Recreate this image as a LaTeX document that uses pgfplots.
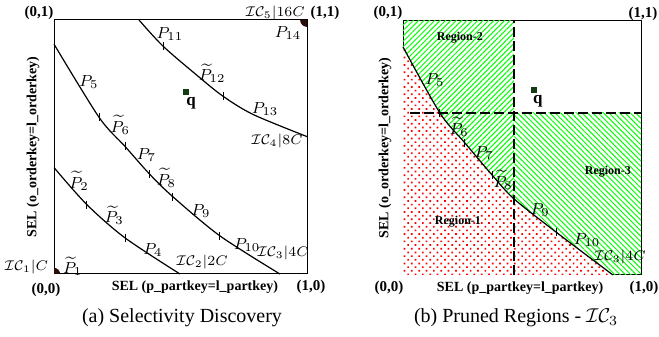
\documentclass[border=0pt]{standalone}
\usepackage{fontspec}
\setmainfont{Liberation Serif}
\usepackage{pgfplots}
\pgfplotsset{compat=1.18}
\usepackage{pgfplotstable}
\usetikzlibrary{patterns,patterns.meta}
\definecolor{qgreen}{RGB}{20,60,20}
\definecolor{corner}{RGB}{45,12,12}
\newcommand{\IC}{\mathcal{I}\mathcal{C}}
\newcommand{\plab}{\fontsize{8}{9}\selectfont}
\newcommand{\iclab}{\fontsize{7.5}{8.5}\selectfont}
\newcommand{\blab}{\fontsize{7}{8}\selectfont\bfseries}
\newcommand{\clab}{\fontsize{7.5}{8.5}\selectfont\bfseries}
\newcommand{\rlab}{\fontsize{6}{7}\selectfont\bfseries}
\newcommand{\caplab}{\fontsize{10}{12}\selectfont}

\pgfplotstableread{
x y
0.336 1.000
0.431 0.897
0.569 0.779
0.668 0.700
0.787 0.628
1.000 0.541
}\ICfourL
\pgfplotstableread{
x y
0.000 0.905
0.178 0.617
0.281 0.502
0.379 0.392
0.470 0.304
0.656 0.150
0.893 0.000
}\ICthreeL
\pgfplotstableread{
x y
0.000 0.419
0.130 0.273
0.281 0.142
0.498 0.000
}\ICtwoL
\pgfplotstableread{
x y
0.000 0.898
0.155 0.638
0.260 0.520
0.374 0.394
0.466 0.300
0.643 0.169
0.882 0.000
}\ICthreeR

\pgfplotsset{
  panel/.style={scale only axis, xmin=0, xmax=1, ymin=0, ymax=1, ticks=none,
    clip=false, axis line style={line width=0.5pt}},
  curve/.style={smooth, line width=0.6pt, black, no marks},
  ctick/.style={only marks, mark=|, mark size=2pt, mark options={line width=0.5pt}, black},
}
\tikzset{every node/.append style={inner sep=0.5pt}}

\begin{document}
\begin{tikzpicture}
\useasboundingbox (0,0) rectangle (329.5pt,168.5pt);

% ---------------- (a) ----------------
\begin{axis}[panel, at={(27pt,31.5pt)}, anchor=south west, width=126.5pt, height=127pt]
\addplot[curve] table {\ICfourL};
\addplot[curve] table {\ICthreeL};
\addplot[curve] table {\ICtwoL};
\addplot[ctick] coordinates {(0.431,0.897) (0.668,0.700)
  (0.178,0.617) (0.281,0.502) (0.379,0.392) (0.470,0.304) (0.656,0.150)
  (0.130,0.273) (0.281,0.142)};
\addplot[fill=corner, draw=none] coordinates {(0,0) (0.024,0) (0.0232,0.0062) (0.0208,0.012) (0.017,0.017) (0.012,0.0208) (0.0062,0.0232) (0,0.024)} --cycle;
\addplot[fill=corner, draw=none] coordinates {(1,1) (0.973,1) (0.9738,0.993) (0.9766,0.9865) (0.981,0.981) (0.9865,0.9766) (0.993,0.9738) (1,0.973)} --cycle;
\addplot[only marks, mark=square*, mark size=1.3pt, color=qgreen] coordinates {(0.522,0.717)};

\node at (axis cs:0.542,0.672) {\fontsize{8.5}{9}\selectfont\bfseries q};
\node at (axis cs:0.458,0.945) {\plab $P_{11}$};
\node at (axis cs:0.925,0.950) {\plab $P_{14}$};
\node at (axis cs:0.625,0.791) {\plab $\widetilde{P}_{12}$};
\node at (axis cs:0.834,0.650) {\plab $P_{13}$};
\node at (axis cs:0.881,0.524) {\iclab $\IC_4|8C$};
\node at (axis cs:0.138,0.756) {\plab $P_{5}$};
\node at (axis cs:0.262,0.587) {\plab $\widetilde{P}_{6}$};
\node at (axis cs:0.365,0.469) {\plab $P_{7}$};
\node at (axis cs:0.444,0.378) {\plab $\widetilde{P}_{8}$};
\node at (axis cs:0.581,0.248) {\plab $P_{9}$};
\node at (axis cs:0.763,0.114) {\plab $P_{10}$};
\node at (axis cs:0.905,0.083) {\iclab $\IC_3|4C$};
\node at (axis cs:0.099,0.366) {\plab $\widetilde{P}_{2}$};
\node at (axis cs:0.238,0.232) {\plab $\widetilde{P}_{3}$};
\node at (axis cs:0.391,0.094) {\plab $P_{4}$};
\node at (axis cs:0.585,0.047) {\iclab $\IC_2|2C$};
\node at (axis cs:0.074,0.030) {\plab $\widetilde{P}_{1}$};
\node[anchor=east] at (axis cs:-0.018,0.028) {\iclab $\IC_1|C$};
\node at (axis cs:-0.059,1.028) {\clab (0,1)};
\node at (axis cs:0.874,1.028) {\iclab $\IC_5|16C$};
\node at (axis cs:1.071,1.028) {\clab (1,1)};
\node at (axis cs:-0.032,-0.063) {\clab (0,0)};
\node at (axis cs:0.557,-0.051) {\blab SEL (p\_partkey=l\_partkey)};
\node at (axis cs:1.016,-0.051) {\clab (1,0)};
\node[rotate=90] at (axis cs:-0.083,0.5) {\blab SEL (o\_orderkey=l\_orderkey)};
\node at (axis cs:0.506,-0.173) {\caplab (a) Selectivity Discovery};
\end{axis}

% ---------------- (b) ----------------
\begin{axis}[panel, at={(201.5pt,31pt)}, anchor=south west, width=119pt, height=127pt]
\addplot[draw=none, pattern={Lines[angle=45,distance=1.9pt,line width=0.5pt]}, pattern color=green] coordinates {(0,1) (0.466,1)} \closedcycle;
\addplot[draw=none, pattern={Lines[angle=-45,distance=1.9pt,line width=0.5pt]}, pattern color=green] coordinates {(0.466,0.638) (1,0.638)} \closedcycle;
\addplot[smooth, draw=none, fill=white, postaction={pattern={Dots[angle=45,distance=2.6pt,radius=0.6pt]}, pattern color=red}] table {\ICthreeR} \closedcycle;
\addplot[line width=0.6pt, dash pattern=on 5pt off 2pt, black] coordinates {(0.466,0) (0.466,1)};
\addplot[line width=0.6pt, dash pattern=on 5pt off 2pt, black] coordinates {(0.03,0.638) (1,0.638)};
\addplot[curve] table {\ICthreeR};
\addplot[ctick] coordinates {(0.155,0.638) (0.260,0.520) (0.374,0.394) (0.643,0.169)};
\addplot[only marks, mark=square*, mark size=1.3pt, color=qgreen] coordinates {(0.550,0.728)};

\node at (axis cs:0.567,0.684) {\fontsize{8.5}{9}\selectfont\bfseries q};
\node at (axis cs:0.239,0.933) {\rlab Region-2};
\node at (axis cs:0.861,0.406) {\rlab Region-3};
\node at (axis cs:0.231,0.209) {\rlab Region-1};
\node at (axis cs:0.134,0.768) {\plab $P_{5}$};
\node at (axis cs:0.236,0.583) {\plab $\widetilde{P}_{6}$};
\node at (axis cs:0.341,0.480) {\plab $P_{7}$};
\node at (axis cs:0.421,0.374) {\plab $\widetilde{P}_{8}$};
\node at (axis cs:0.576,0.256) {\plab $P_{9}$};
\node at (axis cs:0.773,0.138) {\plab $P_{10}$};
\node at (axis cs:0.912,0.071) {\iclab $\IC_3|4C$};
\node at (axis cs:-0.063,1.031) {\clab (0,1)};
\node at (axis cs:1.008,1.028) {\clab (1,1)};
\node at (axis cs:-0.059,-0.051) {\clab (0,0)};
\node at (axis cs:0.492,-0.051) {\blab SEL (p\_partkey=l\_partkey)};
\node at (axis cs:1.013,-0.051) {\clab (1,0)};
\node[rotate=90] at (axis cs:-0.076,0.5) {\blab SEL (o\_orderkey=l\_orderkey)};
\node at (axis cs:0.475,-0.169) {\caplab (b) Pruned Regions - $\IC_3$};
\end{axis}
\end{tikzpicture}
\end{document}
